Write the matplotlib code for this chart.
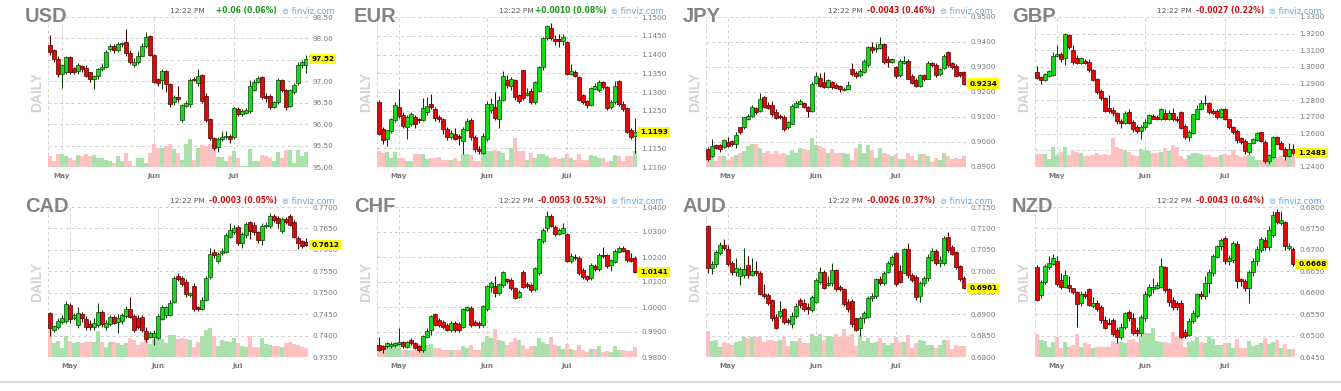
import numpy as np
import pandas as pd
import matplotlib
matplotlib.use("Agg")
import matplotlib.pyplot as plt
from matplotlib.lines import Line2D

# trading days (dollar index trades on US holidays, the fx futures do not)
usd_days = pd.bdate_range("2019-04-26", "2019-07-25")
fx_days = pd.bdate_range("2019-04-24", "2019-07-25").drop(pd.to_datetime(["2019-05-27", "2019-07-04"]))

# ---------------- USD ----------------
usd_open = [97.85, 97.73, 97.52, 97.16, 97.21, 97.56, 97.30, 97.25, 97.35, 97.31, 97.21, 97.06, 97.12,
            97.28, 97.34, 97.75, 97.83, 97.72, 97.86, 97.92, 97.66, 97.38, 97.46, 97.60, 97.82, 98.05,
            97.62, 97.06, 97.02, 97.23, 96.94, 96.52, 96.63, 96.10, 96.43, 96.48, 97.05, 96.95, 97.15,
            96.65, 96.12, 95.67, 95.47, 95.66, 95.70, 95.73, 95.69, 96.36, 96.23, 96.27, 96.30, 96.80,
            96.98, 97.11, 96.66, 96.66, 96.41, 96.51, 97.02, 96.80, 96.43, 96.74, 96.96, 97.39, 97.37]
usd_close = [97.68, 97.52, 97.16, 97.37, 97.56, 97.21, 97.21, 97.37, 97.29, 97.13, 97.06, 97.12, 97.28,
             97.34, 97.68, 97.82, 97.72, 97.88, 97.89, 97.66, 97.45, 97.46, 97.60, 97.82, 98.03, 97.62,
             96.98, 96.96, 97.23, 96.94, 96.47, 96.63, 96.58, 96.45, 96.50, 97.03, 97.03, 97.13, 96.53,
             96.10, 95.67, 95.45, 95.65, 95.70, 95.73, 95.65, 96.38, 96.23, 96.30, 96.32, 96.88, 96.98,
             97.07, 96.63, 96.60, 96.39, 96.51, 97.02, 96.80, 96.41, 96.80, 96.92, 97.39, 97.44, 97.52]
usd_high = [98.07, 97.75, 97.60, 97.40, 97.60, 97.58, 97.33, 97.42, 97.38, 97.38, 97.22, 97.15, 97.32,
            97.42, 97.72, 97.86, 97.86, 97.92, 97.92, 98.23, 97.72, 97.55, 97.70, 97.90, 98.15, 98.08,
            97.64, 97.08, 97.28, 97.26, 96.95, 96.68, 96.88, 96.48, 96.55, 97.08, 97.10, 97.28, 97.18,
            96.72, 96.15, 95.70, 95.70, 95.85, 95.85, 95.78, 96.40, 96.40, 96.35, 96.38, 97.02, 97.05,
            97.13, 97.13, 96.72, 96.70, 96.55, 97.08, 97.05, 96.82, 96.82, 96.95, 97.45, 97.50, 97.62]
usd_low = [97.62, 97.45, 97.10, 96.84, 97.16, 97.18, 97.16, 97.18, 97.22, 97.10, 96.98, 96.82, 97.05,
           97.24, 97.30, 97.70, 97.66, 97.68, 97.80, 97.60, 97.40, 97.34, 97.40, 97.58, 97.78, 97.58,
           96.95, 96.88, 96.82, 96.75, 96.40, 96.45, 96.52, 96.04, 96.40, 96.40, 97.00, 96.90, 96.50,
           96.06, 95.62, 95.40, 95.35, 95.60, 95.65, 95.55, 95.66, 96.18, 96.20, 96.24, 96.26, 96.78,
           96.96, 96.58, 96.52, 96.35, 96.38, 96.48, 96.75, 96.32, 96.40, 96.70, 96.92, 97.30, 97.20]
usd_vol = [32, 17, 37, 39, 32, 27, 22, 35, 32, 37, 32, 35, 27, 27, 22, 19, 12, 32, 19, 42,
           17, 2, 27, 27, 12, 42, 69, 57, 57, 62, 69, 52, 42, 22, 67, 84, 22, 57, 65, 62,
           67, 57, 29, 29, 19, 32, 47, 27, 2, 2, 52, 19, 19, 35, 32, 27, 17, 45, 27, 49,
           49, 12, 49, 32, 44]
usd_change = "+0.06 (0.06%)"

# ---------------- EUR ----------------
eur_open = [1.1274, 1.1202, 1.1174, 1.1196, 1.1226, 1.1261, 1.1238, 1.1208, 1.1214, 1.1234, 1.1229, 1.1226, 1.1247,
            1.1268, 1.1255, 1.1234, 1.1228, 1.1201, 1.1180, 1.1189, 1.1183, 1.1169, 1.1198, 1.1226, 1.1180, 1.1147,
            1.1138, 1.1174, 1.1252, 1.1261, 1.1228, 1.1280, 1.1333, 1.1315, 1.1331, 1.1291, 1.1358, 1.1291, 1.1302,
            1.1273, 1.1304, 1.1367, 1.1443, 1.1470, 1.1441, 1.1441, 1.1437, 1.1434, 1.1349, 1.1353, 1.1340, 1.1291,
            1.1277, 1.1266, 1.1309, 1.1306, 1.1327, 1.1313, 1.1259, 1.1273, 1.1329, 1.1268, 1.1257, 1.1199, 1.1183]
eur_close = [1.1187, 1.1171, 1.1198, 1.1228, 1.1265, 1.1236, 1.1210, 1.1234, 1.1241, 1.1214, 1.1226, 1.1257, 1.1262,
             1.1261, 1.1232, 1.1228, 1.1201, 1.1180, 1.1192, 1.1176, 1.1178, 1.1202, 1.1223, 1.1180, 1.1147, 1.1142,
             1.1184, 1.1268, 1.1268, 1.1232, 1.1280, 1.1342, 1.1318, 1.1335, 1.1286, 1.1277, 1.1284, 1.1297, 1.1273,
             1.1327, 1.1367, 1.1443, 1.1477, 1.1443, 1.1437, 1.1437, 1.1446, 1.1349, 1.1356, 1.1344, 1.1280, 1.1273,
             1.1266, 1.1311, 1.1315, 1.1328, 1.1313, 1.1257, 1.1273, 1.1317, 1.1268, 1.1255, 1.1193, 1.1180, 1.1193]
eur_high = [1.1278, 1.1206, 1.1200, 1.1232, 1.1274, 1.1309, 1.1246, 1.1238, 1.1246, 1.1240, 1.1232, 1.1284, 1.1286,
            1.1295, 1.1260, 1.1238, 1.1232, 1.1206, 1.1200, 1.1205, 1.1188, 1.1206, 1.1230, 1.1232, 1.1186, 1.1155,
            1.1190, 1.1275, 1.1285, 1.1300, 1.1290, 1.1355, 1.1345, 1.1340, 1.1335, 1.1295, 1.1360, 1.1310, 1.1310,
            1.1330, 1.1370, 1.1447, 1.1480, 1.1483, 1.1452, 1.1455, 1.1455, 1.1437, 1.1375, 1.1360, 1.1342, 1.1295,
            1.1280, 1.1313, 1.1325, 1.1332, 1.1330, 1.1315, 1.1278, 1.1330, 1.1332, 1.1275, 1.1260, 1.1205, 1.1230]
eur_low = [1.1185, 1.1162, 1.1155, 1.1190, 1.1220, 1.1232, 1.1205, 1.1174, 1.1210, 1.1205, 1.1218, 1.1222, 1.1240,
           1.1255, 1.1222, 1.1220, 1.1189, 1.1172, 1.1175, 1.1172, 1.1160, 1.1136, 1.1195, 1.1172, 1.1140, 1.1135,
           1.1135, 1.1170, 1.1245, 1.1225, 1.1205, 1.1275, 1.1310, 1.1305, 1.1280, 1.1270, 1.1280, 1.1290, 1.1268,
           1.1268, 1.1300, 1.1360, 1.1440, 1.1440, 1.1425, 1.1420, 1.1425, 1.1345, 1.1345, 1.1340, 1.1275, 1.1268,
           1.1258, 1.1262, 1.1305, 1.1300, 1.1308, 1.1252, 1.1254, 1.1268, 1.1262, 1.1250, 1.1190, 1.1175, 1.1138]
eur_vol = [47, 42, 44, 27, 44, 27, 27, 19, 19, 37, 37, 39, 24, 27, 27, 29, 22, 22, 22, 27,
           19, 39, 39, 34, 19, 19, 42, 47, 47, 49, 47, 42, 21, 57, 84, 47, 47, 21, 42, 27,
           39, 37, 32, 27, 29, 25, 27, 39, 27, 21, 37, 21, 21, 35, 32, 27, 27, 15, 19, 35,
           32, 17, 32, 32, 47]
eur_change = "+0.0010 (0.08%)"

# ---------------- JPY ----------------
jpy_open = [0.8973, 0.8943, 0.8986, 0.8986, 0.8980, 0.9000, 0.9004, 0.8993, 0.9058, 0.9058, 0.9092, 0.9105, 0.9136,
            0.9125, 0.9179, 0.9148, 0.9148, 0.9121, 0.9105, 0.9101, 0.9058, 0.9074, 0.9139, 0.9152, 0.9155, 0.9141,
            0.9125, 0.9236, 0.9257, 0.9240, 0.9222, 0.9240, 0.9226, 0.9222, 0.9209, 0.9213, 0.9290, 0.9276, 0.9267,
            0.9280, 0.9307, 0.9379, 0.9371, 0.9375, 0.9391, 0.9334, 0.9321, 0.9300, 0.9267, 0.9317, 0.9323, 0.9263,
            0.9247, 0.9224, 0.9267, 0.9253, 0.9314, 0.9307, 0.9271, 0.9296, 0.9361, 0.9317, 0.9303, 0.9279, 0.9279]
jpy_close = [0.8930, 0.8986, 0.8977, 0.8970, 0.9007, 0.8984, 0.8990, 0.9028, 0.9038, 0.9098, 0.9105, 0.9141, 0.9119,
             0.9172, 0.9139, 0.9136, 0.9112, 0.9096, 0.9098, 0.9051, 0.9078, 0.9145, 0.9155, 0.9163, 0.9141, 0.9125,
             0.9233, 0.9263, 0.9226, 0.9222, 0.9247, 0.9220, 0.9217, 0.9213, 0.9213, 0.9229, 0.9271, 0.9263, 0.9284,
             0.9323, 0.9379, 0.9368, 0.9375, 0.9391, 0.9321, 0.9321, 0.9330, 0.9263, 0.9323, 0.9323, 0.9253, 0.9237,
             0.9224, 0.9267, 0.9253, 0.9317, 0.9307, 0.9267, 0.9294, 0.9344, 0.9307, 0.9300, 0.9265, 0.9267, 0.9234]
jpy_high = [0.8980, 0.9012, 0.8990, 0.8992, 0.9010, 0.9020, 0.9008, 0.9038, 0.9062, 0.9102, 0.9110, 0.9148, 0.9140,
            0.9195, 0.9185, 0.9160, 0.9165, 0.9130, 0.9110, 0.9108, 0.9085, 0.9150, 0.9165, 0.9172, 0.9160, 0.9145,
            0.9240, 0.9280, 0.9277, 0.9280, 0.9250, 0.9245, 0.9235, 0.9228, 0.9220, 0.9245, 0.9315, 0.9285, 0.9292,
            0.9330, 0.9385, 0.9400, 0.9398, 0.9420, 0.9395, 0.9345, 0.9335, 0.9305, 0.9330, 0.9345, 0.9330, 0.9270,
            0.9255, 0.9270, 0.9270, 0.9325, 0.9320, 0.9315, 0.9298, 0.9350, 0.9365, 0.9322, 0.9310, 0.9282, 0.9285]
jpy_low = [0.8925, 0.8940, 0.8970, 0.8962, 0.8975, 0.8978, 0.8985, 0.8975, 0.9030, 0.9050, 0.9088, 0.9100, 0.9112,
           0.9120, 0.9135, 0.9130, 0.9105, 0.9090, 0.9090, 0.9045, 0.9050, 0.9070, 0.9135, 0.9150, 0.9135, 0.9100,
           0.9120, 0.9230, 0.9220, 0.9215, 0.9215, 0.9210, 0.9210, 0.9200, 0.9205, 0.9210, 0.9265, 0.9255, 0.9260,
           0.9275, 0.9300, 0.9355, 0.9360, 0.9370, 0.9312, 0.9300, 0.9315, 0.9258, 0.9262, 0.9310, 0.9250, 0.9230,
           0.9220, 0.9220, 0.9245, 0.9250, 0.9300, 0.9262, 0.9265, 0.9290, 0.9300, 0.9290, 0.9260, 0.9262, 0.9228]
jpy_vol = [22, 32, 17, 32, 32, 22, 29, 35, 41, 47, 62, 69, 69, 57, 42, 47, 37, 47, 37, 42,
           35, 49, 42, 55, 52, 49, 84, 65, 62, 57, 42, 52, 40, 42, 40, 37, 22, 57, 69, 42,
           65, 49, 27, 57, 42, 39, 32, 37, 24, 25, 42, 32, 22, 37, 39, 32, 14, 27, 22, 42,
           32, 25, 27, 25, 31]
jpy_change = "-0.0043 (0.46%)"

# ---------------- GBP ----------------
gbp_open = [1.2967, 1.2938, 1.2922, 1.2946, 1.2952, 1.3067, 1.3079, 1.3053, 1.3194, 1.3103, 1.3053, 1.3023, 1.3037,
            1.3027, 1.2983, 1.2926, 1.2858, 1.2812, 1.2756, 1.2742, 1.2721, 1.2675, 1.2665, 1.2727, 1.2671, 1.2641,
            1.2617, 1.2637, 1.2665, 1.2705, 1.2697, 1.2687, 1.2725, 1.2687, 1.2725, 1.2691, 1.2727, 1.2647, 1.2577,
            1.2601, 1.2691, 1.2748, 1.2786, 1.2782, 1.2735, 1.2735, 1.2701, 1.2746, 1.2687, 1.2637, 1.2615, 1.2571,
            1.2555, 1.2490, 1.2541, 1.2561, 1.2607, 1.2551, 1.2434, 1.2460, 1.2577, 1.2541, 1.2510, 1.2464, 1.2510]
gbp_close = [1.2932, 1.2922, 1.2958, 1.2973, 1.3067, 1.3079, 1.3047, 1.3198, 1.3119, 1.3027, 1.3023, 1.3053, 1.3023,
             1.2979, 1.2922, 1.2852, 1.2812, 1.2735, 1.2735, 1.2721, 1.2677, 1.2661, 1.2725, 1.2665, 1.2625, 1.2617,
             1.2641, 1.2671, 1.2711, 1.2691, 1.2687, 1.2746, 1.2687, 1.2721, 1.2685, 1.2681, 1.2635, 1.2581, 1.2611,
             1.2717, 1.2748, 1.2782, 1.2782, 1.2731, 1.2725, 1.2697, 1.2746, 1.2687, 1.2637, 1.2611, 1.2561, 1.2551,
             1.2496, 1.2541, 1.2565, 1.2605, 1.2555, 1.2434, 1.2470, 1.2577, 1.2537, 1.2510, 1.2466, 1.2510, 1.2483]
gbp_high = [1.3003, 1.2945, 1.2962, 1.2980, 1.3090, 1.3133, 1.3090, 1.3205, 1.3200, 1.3135, 1.3070, 1.3060, 1.3045,
            1.3045, 1.2990, 1.2935, 1.2865, 1.2820, 1.2830, 1.2760, 1.2730, 1.2685, 1.2735, 1.2750, 1.2680, 1.2650,
            1.2650, 1.2690, 1.2720, 1.2720, 1.2710, 1.2755, 1.2745, 1.2740, 1.2755, 1.2705, 1.2735, 1.2655, 1.2620,
            1.2720, 1.2770, 1.2800, 1.2830, 1.2790, 1.2750, 1.2750, 1.2755, 1.2755, 1.2690, 1.2645, 1.2625, 1.2580,
            1.2565, 1.2545, 1.2575, 1.2610, 1.2612, 1.2560, 1.2480, 1.2585, 1.2585, 1.2555, 1.2520, 1.2545, 1.2540]
gbp_low = [1.2925, 1.2900, 1.2915, 1.2940, 1.2945, 1.3060, 1.3030, 1.3010, 1.3110, 1.3015, 1.3015, 1.3015, 1.3015,
           1.2970, 1.2915, 1.2840, 1.2800, 1.2730, 1.2725, 1.2705, 1.2660, 1.2635, 1.2655, 1.2655, 1.2610, 1.2605,
           1.2565, 1.2630, 1.2655, 1.2685, 1.2680, 1.2680, 1.2680, 1.2680, 1.2675, 1.2670, 1.2625, 1.2570, 1.2555,
           1.2595, 1.2685, 1.2740, 1.2770, 1.2720, 1.2715, 1.2690, 1.2695, 1.2680, 1.2625, 1.2600, 1.2545, 1.2540,
           1.2480, 1.2480, 1.2535, 1.2555, 1.2550, 1.2425, 1.2415, 1.2455, 1.2530, 1.2505, 1.2440, 1.2460, 1.2470]
gbp_vol = [40, 40, 40, 25, 62, 38, 45, 62, 38, 48, 45, 42, 35, 35, 38, 42, 38, 40, 38, 87,
           62, 55, 52, 45, 38, 35, 55, 52, 50, 42, 42, 45, 58, 50, 68, 60, 35, 25, 38, 42,
           42, 40, 38, 38, 30, 30, 38, 40, 38, 52, 38, 30, 35, 38, 35, 20, 22, 20, 20, 35,
           32, 35, 22, 38, 35]
gbp_change = "-0.0027 (0.22%)"

# ---------------- CAD ----------------
cad_open = [0.7452, 0.7414, 0.7419, 0.7432, 0.7434, 0.7471, 0.7440, 0.7424, 0.7450, 0.7438, 0.7428, 0.7420, 0.7424,
            0.7454, 0.7419, 0.7428, 0.7444, 0.7432, 0.7434, 0.7445, 0.7462, 0.7445, 0.7440, 0.7444, 0.7411, 0.7397,
            0.7397, 0.7395, 0.7438, 0.7448, 0.7448, 0.7479, 0.7539, 0.7534, 0.7526, 0.7495, 0.7516, 0.7466, 0.7463,
            0.7483, 0.7536, 0.7594, 0.7575, 0.7592, 0.7596, 0.7631, 0.7641, 0.7653, 0.7617, 0.7634, 0.7666, 0.7659,
            0.7641, 0.7622, 0.7655, 0.7656, 0.7680, 0.7674, 0.7643, 0.7672, 0.7678, 0.7665, 0.7627, 0.7620, 0.7618]
cad_close = [0.7418, 0.7422, 0.7434, 0.7442, 0.7473, 0.7438, 0.7448, 0.7452, 0.7441, 0.7420, 0.7420, 0.7430, 0.7454,
             0.7428, 0.7430, 0.7444, 0.7430, 0.7441, 0.7448, 0.7463, 0.7444, 0.7414, 0.7420, 0.7413, 0.7393, 0.7406,
             0.7407, 0.7445, 0.7466, 0.7466, 0.7477, 0.7534, 0.7531, 0.7520, 0.7496, 0.7500, 0.7461, 0.7463, 0.7484,
             0.7534, 0.7591, 0.7588, 0.7591, 0.7598, 0.7635, 0.7647, 0.7652, 0.7616, 0.7637, 0.7660, 0.7645, 0.7641,
             0.7622, 0.7656, 0.7659, 0.7678, 0.7669, 0.7663, 0.7672, 0.7665, 0.7659, 0.7631, 0.7616, 0.7609, 0.7612]
cad_high = [0.7455, 0.7425, 0.7440, 0.7448, 0.7480, 0.7476, 0.7452, 0.7466, 0.7456, 0.7445, 0.7436, 0.7440, 0.7477,
            0.7460, 0.7436, 0.7448, 0.7448, 0.7450, 0.7452, 0.7470, 0.7490, 0.7450, 0.7448, 0.7447, 0.7420, 0.7410,
            0.7412, 0.7450, 0.7472, 0.7470, 0.7483, 0.7540, 0.7545, 0.7540, 0.7532, 0.7502, 0.7522, 0.7470, 0.7490,
            0.7538, 0.7605, 0.7602, 0.7595, 0.7605, 0.7640, 0.7662, 0.7658, 0.7658, 0.7642, 0.7666, 0.7668, 0.7665,
            0.7645, 0.7662, 0.7666, 0.7685, 0.7684, 0.7678, 0.7676, 0.7676, 0.7684, 0.7670, 0.7632, 0.7624, 0.7628]
cad_low = [0.7400, 0.7408, 0.7415, 0.7428, 0.7430, 0.7430, 0.7436, 0.7418, 0.7432, 0.7414, 0.7414, 0.7414, 0.7420,
           0.7420, 0.7412, 0.7422, 0.7426, 0.7405, 0.7428, 0.7440, 0.7440, 0.7408, 0.7416, 0.7408, 0.7385, 0.7394,
           0.7377, 0.7392, 0.7436, 0.7440, 0.7445, 0.7475, 0.7528, 0.7515, 0.7490, 0.7490, 0.7458, 0.7458, 0.7460,
           0.7480, 0.7532, 0.7580, 0.7570, 0.7588, 0.7592, 0.7628, 0.7638, 0.7612, 0.7605, 0.7628, 0.7625, 0.7635,
           0.7615, 0.7612, 0.7652, 0.7652, 0.7665, 0.7650, 0.7640, 0.7660, 0.7655, 0.7628, 0.7602, 0.7605, 0.7608]
cad_vol = [82, 40, 48, 27, 62, 48, 40, 43, 40, 43, 43, 45, 75, 45, 30, 43, 43, 42, 35, 40,
           55, 50, 35, 45, 52, 38, 53, 52, 52, 40, 65, 65, 52, 55, 52, 50, 30, 45, 60, 80,
           83, 60, 32, 50, 48, 45, 55, 40, 33, 30, 60, 30, 30, 55, 38, 35, 33, 33, 30, 40,
           45, 38, 35, 28, 25]
cad_change = "-0.0003 (0.05%)"

# ---------------- CHF ----------------
chf_open = [0.9850, 0.9844, 0.9843, 0.9843, 0.9847, 0.9854, 0.9860, 0.9840, 0.9870, 0.9854, 0.9843, 0.9827, 0.9880,
            0.9910, 0.9972, 0.9947, 0.9941, 0.9930, 0.9907, 0.9937, 0.9934, 0.9921, 0.9990, 0.9998, 0.9941, 0.9938,
            0.9927, 0.9992, 1.0081, 1.0084, 1.0055, 1.0088, 1.0111, 1.0108, 1.0075, 1.0041, 1.0138, 1.0092, 1.0088,
            1.0071, 1.0135, 1.0266, 1.0316, 1.0363, 1.0320, 1.0293, 1.0298, 1.0292, 1.0186, 1.0202, 1.0195, 1.0148,
            1.0124, 1.0115, 1.0164, 1.0152, 1.0209, 1.0209, 1.0168, 1.0182, 1.0222, 1.0235, 1.0226, 1.0195, 1.0195]
chf_close = [0.9830, 0.9834, 0.9854, 0.9851, 0.9854, 0.9860, 0.9843, 0.9860, 0.9856, 0.9838, 0.9830, 0.9883, 0.9905,
             0.9963, 0.9930, 0.9930, 0.9921, 0.9910, 0.9938, 0.9907, 0.9910, 0.9993, 1.0001, 0.9927, 0.9930, 0.9927,
             1.0004, 1.0085, 1.0097, 1.0055, 1.0091, 1.0138, 1.0105, 1.0075, 1.0038, 1.0061, 1.0081, 1.0084, 1.0068,
             1.0155, 1.0271, 1.0309, 1.0363, 1.0325, 1.0293, 1.0309, 1.0316, 1.0186, 1.0205, 1.0195, 1.0135, 1.0119,
             1.0111, 1.0168, 1.0152, 1.0209, 1.0205, 1.0164, 1.0186, 1.0225, 1.0235, 1.0226, 1.0188, 1.0186, 1.0141]
chf_high = [0.9880, 0.9850, 0.9860, 0.9862, 0.9862, 0.9915, 0.9866, 0.9866, 0.9876, 0.9862, 0.9848, 0.9888, 0.9915,
            0.9968, 0.9978, 0.9955, 0.9948, 0.9936, 0.9945, 0.9945, 0.9942, 0.9998, 1.0006, 1.0003, 0.9948, 0.9945,
            1.0010, 1.0090, 1.0105, 1.0125, 1.0098, 1.0145, 1.0118, 1.0115, 1.0080, 1.0068, 1.0148, 1.0100, 1.0095,
            1.0160, 1.0275, 1.0315, 1.0385, 1.0372, 1.0330, 1.0318, 1.0335, 1.0295, 1.0215, 1.0212, 1.0205, 1.0155,
            1.0130, 1.0175, 1.0172, 1.0215, 1.0242, 1.0212, 1.0192, 1.0232, 1.0245, 1.0245, 1.0230, 1.0215, 1.0205]
chf_low = [0.9825, 0.9815, 0.9835, 0.9838, 0.9840, 0.9848, 0.9838, 0.9835, 0.9850, 0.9832, 0.9822, 0.9822, 0.9875,
           0.9890, 0.9925, 0.9922, 0.9912, 0.9905, 0.9900, 0.9900, 0.9902, 0.9915, 0.9985, 0.9920, 0.9925, 0.9915,
           0.9920, 0.9985, 1.0060, 1.0040, 1.0048, 1.0080, 1.0095, 1.0068, 1.0032, 1.0035, 1.0075, 1.0078, 1.0060,
           1.0065, 1.0130, 1.0255, 1.0305, 1.0320, 1.0285, 1.0288, 1.0292, 1.0180, 1.0178, 1.0188, 1.0128, 1.0112,
           1.0105, 1.0108, 1.0145, 1.0145, 1.0198, 1.0158, 1.0145, 1.0178, 1.0218, 1.0220, 1.0182, 1.0180, 1.0135]
chf_vol = [22, 20, 32, 30, 42, 37, 22, 22, 22, 22, 38, 35, 35, 38, 27, 27, 20, 20, 20, 22,
           22, 32, 28, 35, 22, 22, 45, 62, 58, 85, 52, 48, 35, 45, 58, 52, 35, 25, 32, 32,
           57, 45, 38, 60, 35, 32, 25, 38, 25, 20, 35, 22, 15, 25, 25, 32, 15, 18, 15, 32,
           20, 20, 18, 18, 30]
chf_change = "-0.0053 (0.52%)"

# ---------------- AUD ----------------
aud_open = [0.7105, 0.7007, 0.7017, 0.7042, 0.7062, 0.7052, 0.7019, 0.6999, 0.6989, 0.6991, 0.7015, 0.6991, 0.7001,
            0.6995, 0.6947, 0.6945, 0.6933, 0.6894, 0.6896, 0.6912, 0.6886, 0.6878, 0.6895, 0.6933, 0.6925, 0.6917,
            0.6909, 0.6929, 0.6976, 0.6999, 0.6968, 0.6972, 0.7003, 0.6963, 0.6958, 0.6929, 0.6931, 0.6890, 0.6867,
            0.6890, 0.6894, 0.6937, 0.6942, 0.6981, 0.6972, 0.6999, 0.7017, 0.7042, 0.7001, 0.6997, 0.7052, 0.6991,
            0.6986, 0.6942, 0.6972, 0.6984, 0.7027, 0.7048, 0.7019, 0.7019, 0.7081, 0.7056, 0.7045, 0.7013, 0.6984]
aud_close = [0.7007, 0.7017, 0.7045, 0.7062, 0.7055, 0.7017, 0.6999, 0.7007, 0.7006, 0.7006, 0.6991, 0.7001, 0.6995,
             0.6947, 0.6942, 0.6927, 0.6891, 0.6867, 0.6907, 0.6882, 0.6882, 0.6895, 0.6919, 0.6921, 0.6913, 0.6911,
             0.6941, 0.6980, 0.6999, 0.6962, 0.6973, 0.7003, 0.6959, 0.6958, 0.6923, 0.6911, 0.6878, 0.6864, 0.6890,
             0.6903, 0.6938, 0.6942, 0.6981, 0.6972, 0.6997, 0.7020, 0.7034, 0.6970, 0.6976, 0.7052, 0.6991, 0.6980,
             0.6939, 0.6973, 0.6985, 0.7034, 0.7048, 0.7020, 0.7027, 0.7077, 0.7050, 0.7041, 0.7009, 0.6981, 0.6961]
aud_high = [0.7108, 0.7025, 0.7050, 0.7068, 0.7075, 0.7062, 0.7025, 0.7030, 0.7010, 0.7055, 0.7035, 0.7030, 0.7025,
            0.7000, 0.6970, 0.6950, 0.6935, 0.6900, 0.6930, 0.6915, 0.6890, 0.6905, 0.6925, 0.6938, 0.6935, 0.6925,
            0.6945, 0.6985, 0.7010, 0.7002, 0.6990, 0.7020, 0.7005, 0.6968, 0.6960, 0.6935, 0.6935, 0.6892, 0.6895,
            0.6908, 0.6942, 0.6950, 0.6985, 0.6990, 0.7000, 0.7025, 0.7038, 0.7045, 0.7015, 0.7055, 0.7065, 0.6995,
            0.6992, 0.6978, 0.6990, 0.7040, 0.7055, 0.7052, 0.7035, 0.7082, 0.7092, 0.7062, 0.7048, 0.7015, 0.6990]
aud_low = [0.6995, 0.6993, 0.7010, 0.7038, 0.7050, 0.7012, 0.6992, 0.6990, 0.6968, 0.6985, 0.6985, 0.6988, 0.6990,
           0.6945, 0.6938, 0.6922, 0.6885, 0.6865, 0.6892, 0.6878, 0.6878, 0.6868, 0.6892, 0.6915, 0.6908, 0.6900,
           0.6905, 0.6925, 0.6970, 0.6958, 0.6965, 0.6965, 0.6955, 0.6955, 0.6918, 0.6905, 0.6870, 0.6860, 0.6850,
           0.6880, 0.6890, 0.6930, 0.6938, 0.6968, 0.6968, 0.6995, 0.7012, 0.6965, 0.6972, 0.6995, 0.6985, 0.6975,
           0.6932, 0.6928, 0.6965, 0.6978, 0.7025, 0.7015, 0.7010, 0.7015, 0.7045, 0.7038, 0.7005, 0.6978, 0.6958]
aud_vol = [72, 45, 48, 28, 42, 38, 35, 42, 45, 55, 52, 55, 55, 55, 42, 48, 47, 45, 48, 55,
           32, 44, 44, 52, 38, 38, 65, 60, 65, 48, 60, 57, 65, 55, 80, 55, 65, 30, 62, 45,
           52, 40, 42, 53, 40, 35, 40, 55, 43, 42, 62, 25, 38, 48, 45, 34, 34, 25, 35, 48,
           48, 22, 35, 30, 30]
aud_change = "-0.0026 (0.37%)"

# ---------------- NZD ----------------
nzd_open = [0.6659, 0.6595, 0.6626, 0.6659, 0.6667, 0.6675, 0.6630, 0.6614, 0.6618, 0.6610, 0.6602, 0.6575, 0.6598,
            0.6608, 0.6569, 0.6577, 0.6567, 0.6536, 0.6530, 0.6536, 0.6513, 0.6497, 0.6520, 0.6554, 0.6542, 0.6514,
            0.6506, 0.6540, 0.6595, 0.6608, 0.6612, 0.6614, 0.6659, 0.6608, 0.6583, 0.6575, 0.6577, 0.6509, 0.6501,
            0.6534, 0.6546, 0.6597, 0.6592, 0.6623, 0.6647, 0.6684, 0.6708, 0.6727, 0.6675, 0.6677, 0.6714, 0.6631,
            0.6627, 0.6612, 0.6649, 0.6673, 0.6700, 0.6723, 0.6706, 0.6735, 0.6788, 0.6763, 0.6764, 0.6704, 0.6702]
nzd_close = [0.6584, 0.6626, 0.6663, 0.6669, 0.6681, 0.6620, 0.6614, 0.6641, 0.6610, 0.6602, 0.6573, 0.6598, 0.6593,
             0.6571, 0.6575, 0.6561, 0.6536, 0.6518, 0.6528, 0.6503, 0.6497, 0.6520, 0.6552, 0.6541, 0.6506, 0.6505,
             0.6544, 0.6596, 0.6614, 0.6614, 0.6618, 0.6663, 0.6606, 0.6579, 0.6567, 0.6566, 0.6497, 0.6500, 0.6534,
             0.6552, 0.6597, 0.6592, 0.6623, 0.6649, 0.6686, 0.6708, 0.6723, 0.6673, 0.6681, 0.6716, 0.6627, 0.6627,
             0.6610, 0.6649, 0.6673, 0.6702, 0.6725, 0.6706, 0.6747, 0.6782, 0.6766, 0.6769, 0.6708, 0.6708, 0.6668]
nzd_high = [0.6665, 0.6630, 0.6668, 0.6685, 0.6690, 0.6685, 0.6645, 0.6652, 0.6638, 0.6612, 0.6605, 0.6605, 0.6605,
            0.6612, 0.6590, 0.6582, 0.6572, 0.6545, 0.6540, 0.6540, 0.6520, 0.6530, 0.6556, 0.6560, 0.6552, 0.6520,
            0.6548, 0.6605, 0.6620, 0.6635, 0.6625, 0.6680, 0.6662, 0.6612, 0.6590, 0.6580, 0.6582, 0.6515, 0.6540,
            0.6560, 0.6600, 0.6605, 0.6640, 0.6655, 0.6690, 0.6712, 0.6728, 0.6732, 0.6688, 0.6720, 0.6720, 0.6635,
            0.6632, 0.6652, 0.6680, 0.6708, 0.6730, 0.6730, 0.6755, 0.6790, 0.6795, 0.6790, 0.6768, 0.6715, 0.6706]
nzd_low = [0.6580, 0.6588, 0.6620, 0.6655, 0.6665, 0.6615, 0.6608, 0.6610, 0.6602, 0.6598, 0.6520, 0.6570, 0.6588,
           0.6568, 0.6565, 0.6558, 0.6530, 0.6515, 0.6525, 0.6498, 0.6482, 0.6492, 0.6515, 0.6535, 0.6502, 0.6498,
           0.6500, 0.6535, 0.6590, 0.6600, 0.6608, 0.6610, 0.6602, 0.6570, 0.6560, 0.6560, 0.6495, 0.6495, 0.6498,
           0.6530, 0.6540, 0.6585, 0.6585, 0.6600, 0.6640, 0.6680, 0.6700, 0.6668, 0.6665, 0.6670, 0.6610, 0.6615,
           0.6605, 0.6575, 0.6640, 0.6665, 0.6695, 0.6700, 0.6700, 0.6730, 0.6760, 0.6758, 0.6700, 0.6700, 0.6662]
nzd_vol = [70, 52, 50, 32, 47, 60, 27, 47, 32, 37, 70, 32, 44, 40, 27, 32, 32, 30, 30, 50,
           44, 47, 44, 52, 54, 47, 64, 72, 72, 87, 50, 47, 47, 44, 77, 62, 57, 32, 47, 50,
           62, 47, 44, 64, 54, 37, 37, 44, 42, 27, 55, 27, 27, 50, 34, 37, 42, 57, 40, 47,
           52, 27, 39, 24, 25]
nzd_change = "-0.0043 (0.64%)"

W, H = 1341, 391
fig = plt.figure(figsize=(W / 100, H / 100), dpi=100)

UP, DOWN = "#14dc14", "#e00808"
UP_EDGE, DOWN_EDGE = "#0b400b", "#4c0000"
VOL_UP, VOL_DOWN = "#abdfab", "#ffc2c2"
GRID = "#cfcfcf"
DASH = (0, (3, 3))


def fx(px):
    return px / W


def fy(px):
    return 1 - px / H


def candle_panel(left, top, name, days, o, h, l, c, vol, lo, hi, step, fmt, change):
    ax = fig.add_axes([fx(left), fy(top + 150), 260 / W, 150 / H])
    o, h, l, c, vol = (np.asarray(a, float) for a in (o, h, l, c, vol))
    x = np.arange(len(c))
    up = c >= o
    span = hi - lo

    # volume along the bottom of the price pane
    ax.bar(x, vol / vol.max() * 0.19 * span, bottom=lo, width=1.0,
           color=[VOL_UP if u else VOL_DOWN for u in up], zorder=1)

    edge = [UP_EDGE if u else DOWN_EDGE for u in up]
    ax.vlines(x, np.minimum(l, np.minimum(o, c)), np.maximum(h, np.maximum(o, c)),
              colors=edge, linewidth=0.75, zorder=2)
    ax.bar(x, np.maximum(np.abs(c - o), span * 0.005), bottom=np.minimum(o, c), width=0.76,
           color=[UP if u else DOWN for u in up], edgecolor=edge, linewidth=0.5, zorder=3)

    ticks = np.arange(lo, hi + step / 2, step)
    ax.set_xlim(-0.5, len(c) - 0.5)
    ax.set_ylim(lo, hi)
    ax.set_yticks(ticks)
    ax.set_yticklabels([fmt.format(t) for t in ticks])
    ax.yaxis.tick_right()
    months = [i for i in range(1, len(days)) if days[i].month != days[i - 1].month]
    ax.set_xticks(months)
    ax.set_xticklabels([days[i].strftime("%b") for i in months], fontweight="bold")
    ax.tick_params(length=0, labelsize=5.2, labelcolor="#7a7a7a")
    ax.tick_params(axis="y", pad=3)
    ax.tick_params(axis="x", pad=4)
    ax.grid(True, color=GRID, linestyle=DASH, linewidth=0.7)
    ax.set_axisbelow(True)
    for s in ax.spines.values():
        s.set_visible(False)
    for edge_x in (-0.5, len(c) - 0.5):
        ax.axvline(edge_x, color=GRID, linestyle=DASH, linewidth=0.7, zorder=0)

    # last price tag
    ax.annotate(fmt.format(c[-1]), xy=(1, c[-1]), xycoords=("axes fraction", "data"),
                xytext=(2.3, 0), textcoords="offset points", ha="left", va="center",
                fontsize=5.2, fontweight="bold", color="black", annotation_clip=False,
                bbox=dict(boxstyle="square,pad=0.28", fc="#ffff00", ec="none"), zorder=6)

    # header
    fig.text(fx(left - 23), fy(top + 4.5), name, fontsize=14.5, fontweight="bold",
             color="#848484", family="Liberation Sans", va="baseline", ha="left")
    fig.text(fx(left - 11), fy(top + 75), "DAILY", rotation=90, fontsize=10, fontweight="bold",
             color="#d4d4d4", family="Liberation Sans", ha="center", va="center")
    fig.text(fx(left + 122), fy(top - 4), "12:22 PM", fontsize=5.3, color="#555555",
             ha="left", va="baseline")
    fig.text(fx(left + 229), fy(top - 4), change, fontsize=5.5, fontweight="bold",
             color="#1a9a1a" if change.startswith("+") else "#d01010", ha="right", va="baseline")
    fig.text(fx(left + 286.5), fy(top - 3.5), "\u229c finviz.com", fontsize=6, color="#6aa8dc",
             ha="right", va="baseline")
    return ax


panels = [
    (48, 17, "USD", usd_days, usd_open, usd_high, usd_low, usd_close, usd_vol, 95.0, 98.5, 0.5, "{:.2f}", usd_change),
    (377, 17, "EUR", fx_days, eur_open, eur_high, eur_low, eur_close, eur_vol, 1.11, 1.15, 0.005, "{:.4f}", eur_change),
    (706, 17, "JPY", fx_days, jpy_open, jpy_high, jpy_low, jpy_close, jpy_vol, 0.89, 0.95, 0.01, "{:.4f}", jpy_change),
    (1035, 17, "GBP", fx_days, gbp_open, gbp_high, gbp_low, gbp_close, gbp_vol, 1.24, 1.33, 0.01, "{:.4f}", gbp_change),
    (48, 207, "CAD", fx_days, cad_open, cad_high, cad_low, cad_close, cad_vol, 0.735, 0.77, 0.005, "{:.4f}", cad_change),
    (377, 207, "CHF", fx_days, chf_open, chf_high, chf_low, chf_close, chf_vol, 0.98, 1.04, 0.01, "{:.4f}", chf_change),
    (706, 207, "AUD", fx_days, aud_open, aud_high, aud_low, aud_close, aud_vol, 0.68, 0.715, 0.005, "{:.4f}", aud_change),
    (1035, 207, "NZD", fx_days, nzd_open, nzd_high, nzd_low, nzd_close, nzd_vol, 0.645, 0.68, 0.005, "{:.4f}", nzd_change),
]

for p in panels:
    candle_panel(*p)

fig.add_artist(Line2D([0, 1], [fy(382), fy(382)], color="#dddddd", linewidth=1.5))

fig.savefig("out.png", dpi=100, facecolor="white")
